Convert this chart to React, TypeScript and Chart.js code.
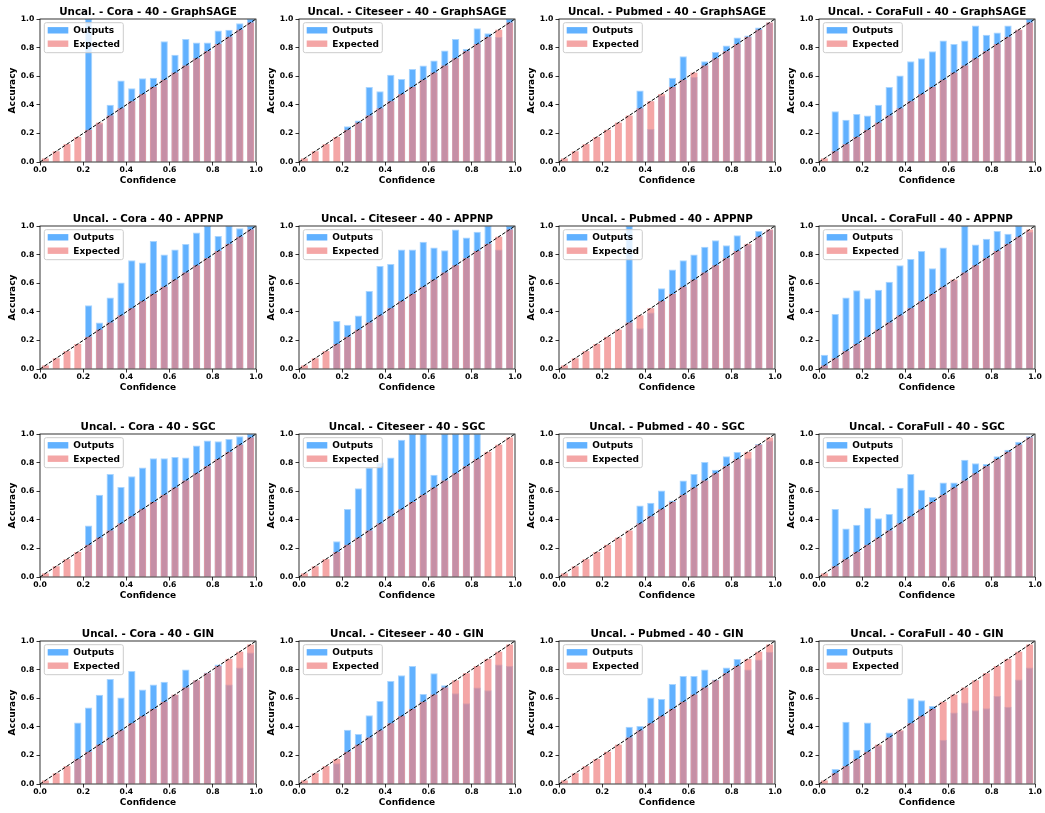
import React, { useEffect, useRef } from "react";
import { Chart, registerables } from "chart.js";

Chart.register(...registerables);

// ---------- data ----------
const binCenters = [0.025, 0.075, 0.125, 0.175, 0.225, 0.275, 0.325, 0.375, 0.425, 0.475, 0.525, 0.575, 0.625, 0.675, 0.725, 0.775, 0.825, 0.875, 0.925, 0.975];
const expected = [0.025, 0.075, 0.125, 0.175, 0.225, 0.275, 0.325, 0.375, 0.425, 0.475, 0.525, 0.575, 0.625, 0.675, 0.725, 0.775, 0.825, 0.875, 0.925, 0.975];
const tickValues = [0, 0.2, 0.4, 0.6, 0.8, 1.0];
const datasetNames = ["Cora", "Citeseer", "Pubmed", "CoraFull"];
const modelNames = ["GraphSAGE", "APPNP", "SGC", "GIN"];

const coraGraphSAGE = [0, 0, 0, 0, 1.0, 0.27, 0.40, 0.57, 0.515, 0.585, 0.59, 0.845, 0.75, 0.86, 0.835, 0.835, 0.92, 0.925, 0.97, 1.0];
const citeseerGraphSAGE = [0, 0, 0, 0, 0.25, 0.29, 0.525, 0.495, 0.61, 0.58, 0.65, 0.675, 0.71, 0.78, 0.86, 0.79, 0.935, 0.90, 0.875, 1.0];
const pubmedGraphSAGE = [0, 0, 0, 0, 0, 0, 0, 0.50, 0.23, 0.465, 0.59, 0.74, 0.595, 0.705, 0.77, 0.815, 0.87, 0.885, 0.94, 0.975];
const coraFullGraphSAGE = [0, 0.355, 0.295, 0.335, 0.325, 0.40, 0.525, 0.605, 0.705, 0.725, 0.775, 0.85, 0.825, 0.85, 0.955, 0.89, 0.905, 0.955, 0.925, 1.0];

const coraAPPNP = [0, 0, 0, 0, 0.445, 0.325, 0.50, 0.605, 0.76, 0.745, 0.895, 0.80, 0.835, 0.875, 0.955, 1.0, 0.93, 1.0, 0.985, 1.0];
const citeseerAPPNP = [0, 0, 0, 0.335, 0.31, 0.375, 0.545, 0.72, 0.735, 0.835, 0.835, 0.89, 0.85, 0.83, 0.975, 0.92, 0.96, 1.0, 0.835, 1.0];
const pubmedAPPNP = [0, 0, 0, 0, 0, 0, 1.0, 0.285, 0.395, 0.565, 0.695, 0.76, 0.80, 0.855, 0.90, 0.865, 0.935, 0.87, 0.965, 0.975];
const coraFullAPPNP = [0.10, 0.385, 0.50, 0.55, 0.495, 0.555, 0.61, 0.725, 0.77, 0.825, 0.705, 0.85, 0.62, 1.0, 0.87, 0.91, 0.965, 0.945, 1.0, 0.96];

const coraSGC = [0, 0, 0, 0, 0.36, 0.575, 0.72, 0.63, 0.705, 0.765, 0.83, 0.83, 0.84, 0.835, 0.92, 0.955, 0.95, 0.965, 0.985, 1.0];
const citeseerSGC = [0, 0, 0, 0.25, 0.475, 0.62, 0.765, 0.80, 0.835, 0.96, 1.0, 1.0, 0.715, 1.0, 1.0, 1.0, 1.0, 0, 0, 0];
const pubmedSGC = [0, 0, 0, 0, 0, 0, 0, 0.50, 0.52, 0.605, 0.535, 0.675, 0.72, 0.805, 0.75, 0.845, 0.875, 0.83, 0.93, 0.955];
const coraFullSGC = [0, 0.475, 0.34, 0.365, 0.485, 0.41, 0.44, 0.625, 0.72, 0.61, 0.56, 0.66, 0.66, 0.82, 0.795, 0.79, 0.845, 0.89, 0.945, 0.985];

const coraGIN = [0, 0, 0, 0.43, 0.535, 0.625, 0.735, 0.605, 0.79, 0.66, 0.695, 0.715, 0.625, 0.80, 0.725, 0.78, 0.835, 0.695, 0.815, 0.92];
const citeseerGIN = [0, 0, 0, 0.145, 0.38, 0.35, 0.48, 0.58, 0.72, 0.76, 0.825, 0.63, 0.775, 0.69, 0.635, 0.565, 0.675, 0.655, 0.835, 0.825];
const pubmedGIN = [0, 0, 0, 0, 0, 0, 0.40, 0.405, 0.605, 0.595, 0.70, 0.755, 0.755, 0.80, 0.73, 0.815, 0.875, 0.80, 0.87, 0.925];
const coraFullGIN = [0, 0.105, 0.435, 0.24, 0.43, 0.27, 0.36, 0.37, 0.60, 0.585, 0.545, 0.31, 0.50, 0.57, 0.515, 0.53, 0.615, 0.54, 0.73, 0.815];

const outputsGrid = [
  [coraGraphSAGE, citeseerGraphSAGE, pubmedGraphSAGE, coraFullGraphSAGE],
  [coraAPPNP, citeseerAPPNP, pubmedAPPNP, coraFullAPPNP],
  [coraSGC, citeseerSGC, pubmedSGC, coraFullSGC],
  [coraGIN, citeseerGIN, pubmedGIN, coraFullGIN],
];

// ---------- layout / style ----------
const FONT = '"DejaVu Sans", "Liberation Sans", sans-serif';
const BLUE = "rgba(30,144,255,0.7)";
const BLUE_EDGE = "rgba(30,144,255,0.38)";
const PINK = "rgba(240,128,128,0.7)";
const PLOT_LEFTS = [40, 299, 559, 819];
const PLOT_TOPS = [19, 226, 434, 641];
const PAD_L = 2;
const Y_W = 38;
const PAD_T = 22;
const PAD_R = 10;
const X_H = 32;
const PLOT_W = 216;
const PLOT_H = 143;
const CANVAS_W = PAD_L + Y_W + PLOT_W + PAD_R;
const CANVAS_H = PAD_T + PLOT_H + X_H;

const panelPlugin = {
  id: "panel",
  afterDraw(chart: any, _args: any, opts: any) {
    const { ctx } = chart;
    const { left, top, right, bottom } = chart.chartArea;
    ctx.save();
    // frame (spines)
    ctx.strokeStyle = "#000";
    ctx.lineWidth = 0.8;
    ctx.strokeRect(left, top, right - left, bottom - top);
    // title
    ctx.fillStyle = "#000";
    ctx.font = `bold 10.3px ${FONT}`;
    ctx.textAlign = "center";
    ctx.textBaseline = "alphabetic";
    ctx.fillText(opts.title || "", (left + right) / 2, top - 4);
    // legend
    const lx = left + 4.3;
    const ly = top + 3.7;
    const lw = 79;
    const lh = 30;
    const r = 2;
    ctx.beginPath();
    ctx.moveTo(lx + r, ly);
    ctx.lineTo(lx + lw - r, ly);
    ctx.arcTo(lx + lw, ly, lx + lw, ly + r, r);
    ctx.lineTo(lx + lw, ly + lh - r);
    ctx.arcTo(lx + lw, ly + lh, lx + lw - r, ly + lh, r);
    ctx.lineTo(lx + r, ly + lh);
    ctx.arcTo(lx, ly + lh, lx, ly + lh - r, r);
    ctx.lineTo(lx, ly + r);
    ctx.arcTo(lx, ly, lx + r, ly, r);
    ctx.closePath();
    ctx.fillStyle = "rgba(255,255,255,0.8)";
    ctx.fill();
    ctx.strokeStyle = "#cccccc";
    ctx.lineWidth = 1;
    ctx.stroke();
    const items = chart.data.datasets
      .filter((d: any) => d.label === "Outputs" || d.label === "Expected")
      .sort((a: any) => (a.label === "Outputs" ? -1 : 1));
    ctx.font = `bold 9px ${FONT}`;
    ctx.textAlign = "left";
    ctx.textBaseline = "middle";
    items.forEach((d: any, i: number) => {
      const cy = top + 11.3 + i * 13.4;
      ctx.fillStyle = d.backgroundColor;
      ctx.fillRect(left + 7.7, cy - 3.2, 20.6, 6.4);
      ctx.fillStyle = "#000";
      ctx.fillText(d.label, left + 33.3, cy + 0.5);
    });
    ctx.restore();
  },
};

function Panel({ title, outputs, canvasLeft, canvasTop }: { title: string; outputs: number[]; canvasLeft: number; canvasTop: number }) {
  const ref = useRef<HTMLCanvasElement | null>(null);
  useEffect(() => {
    if (!ref.current) return;
    const tickFont = { family: FONT, size: 7.7, weight: "bold" as const };
    const titleFont = { family: FONT, size: 9, weight: "bold" as const };
    const chart = new Chart(ref.current, {
      type: "bar",
      data: {
        datasets: [
          {
            type: "line",
            label: "diagonal",
            data: [
              { x: 0, y: 0 },
              { x: 1, y: 1 },
            ],
            borderColor: "#000",
            borderWidth: 1,
            borderDash: [3.7, 1.6],
            pointRadius: 0,
            fill: false,
            order: 0,
          } as any,
          {
            label: "Expected",
            data: binCenters.map((x, i) => ({ x, y: expected[i] })),
            backgroundColor: PINK,
            borderWidth: 0,
            grouped: false,
            barPercentage: 0.64,
            categoryPercentage: 1,
            order: 1,
          } as any,
          {
            label: "Outputs",
            data: binCenters.map((x, i) => ({ x, y: outputs[i] })),
            backgroundColor: BLUE,
            borderColor: BLUE_EDGE,
            borderWidth: 1,
            grouped: false,
            barPercentage: 0.68,
            categoryPercentage: 1,
            order: 2,
          } as any,
        ],
      },
      options: {
        responsive: false,
        animation: false,
        events: [],
        layout: { padding: { left: PAD_L, top: PAD_T, right: PAD_R, bottom: 0 } },
        plugins: {
          legend: { display: false },
          title: { display: false },
          tooltip: { enabled: false },
          panel: { title },
        } as any,
        scales: {
          x: {
            type: "linear",
            min: 0,
            max: 1,
            offset: false,
            grid: { display: true, drawOnChartArea: false, drawTicks: true, tickLength: 3.5, color: "#000", lineWidth: 0.8, offset: false },
            border: { display: false },
            afterBuildTicks: (s: any) => {
              s.ticks = tickValues.map((v) => ({ value: v }));
            },
            ticks: {
              padding: 0,
              font: tickFont,
              color: "#000",
              maxRotation: 0,
              autoSkip: false,
              callback: (v: any) => Number(v).toFixed(1),
            },
            title: { display: true, text: "Confidence", font: titleFont, color: "#000", padding: { top: 0, bottom: 7.6 } },
            afterFit: (s: any) => {
              s.height = X_H;
            },
          },
          y: {
            type: "linear",
            min: 0,
            max: 1,
            grid: { display: true, drawOnChartArea: false, drawTicks: true, tickLength: 3.5, color: "#000", lineWidth: 0.8 },
            border: { display: false },
            afterBuildTicks: (s: any) => {
              s.ticks = tickValues.map((v) => ({ value: v }));
            },
            ticks: {
              padding: 2.2,
              font: tickFont,
              color: "#000",
              autoSkip: false,
              callback: (v: any) => Number(v).toFixed(1),
            },
            title: { display: true, text: "Accuracy", font: titleFont, color: "#000", padding: { top: 5.5, bottom: 0 } },
            afterFit: (s: any) => {
              s.width = Y_W;
            },
          },
        } as any,
      },
      plugins: [panelPlugin as any],
    });
    return () => chart.destroy();
  }, [title, outputs]);
  return (
    <canvas
      ref={ref}
      width={CANVAS_W}
      height={CANVAS_H}
      style={{ position: "absolute", left: canvasLeft, top: canvasTop, width: CANVAS_W, height: CANVAS_H }}
    />
  );
}

export default function App() {
  return (
    <div style={{ position: "absolute", left: 0, top: 0, width: 1045, height: 813, overflow: "hidden", background: "#fff" }}>
      {modelNames.map((model, r) =>
        datasetNames.map((ds, c) => (
          <Panel
            key={`${r}-${c}`}
            title={`Uncal. - ${ds} - 40 - ${model}`}
            outputs={outputsGrid[r][c]}
            canvasLeft={PLOT_LEFTS[c] - PAD_L - Y_W}
            canvasTop={PLOT_TOPS[r] - PAD_T}
          />
        ))
      )}
    </div>
  );
}
